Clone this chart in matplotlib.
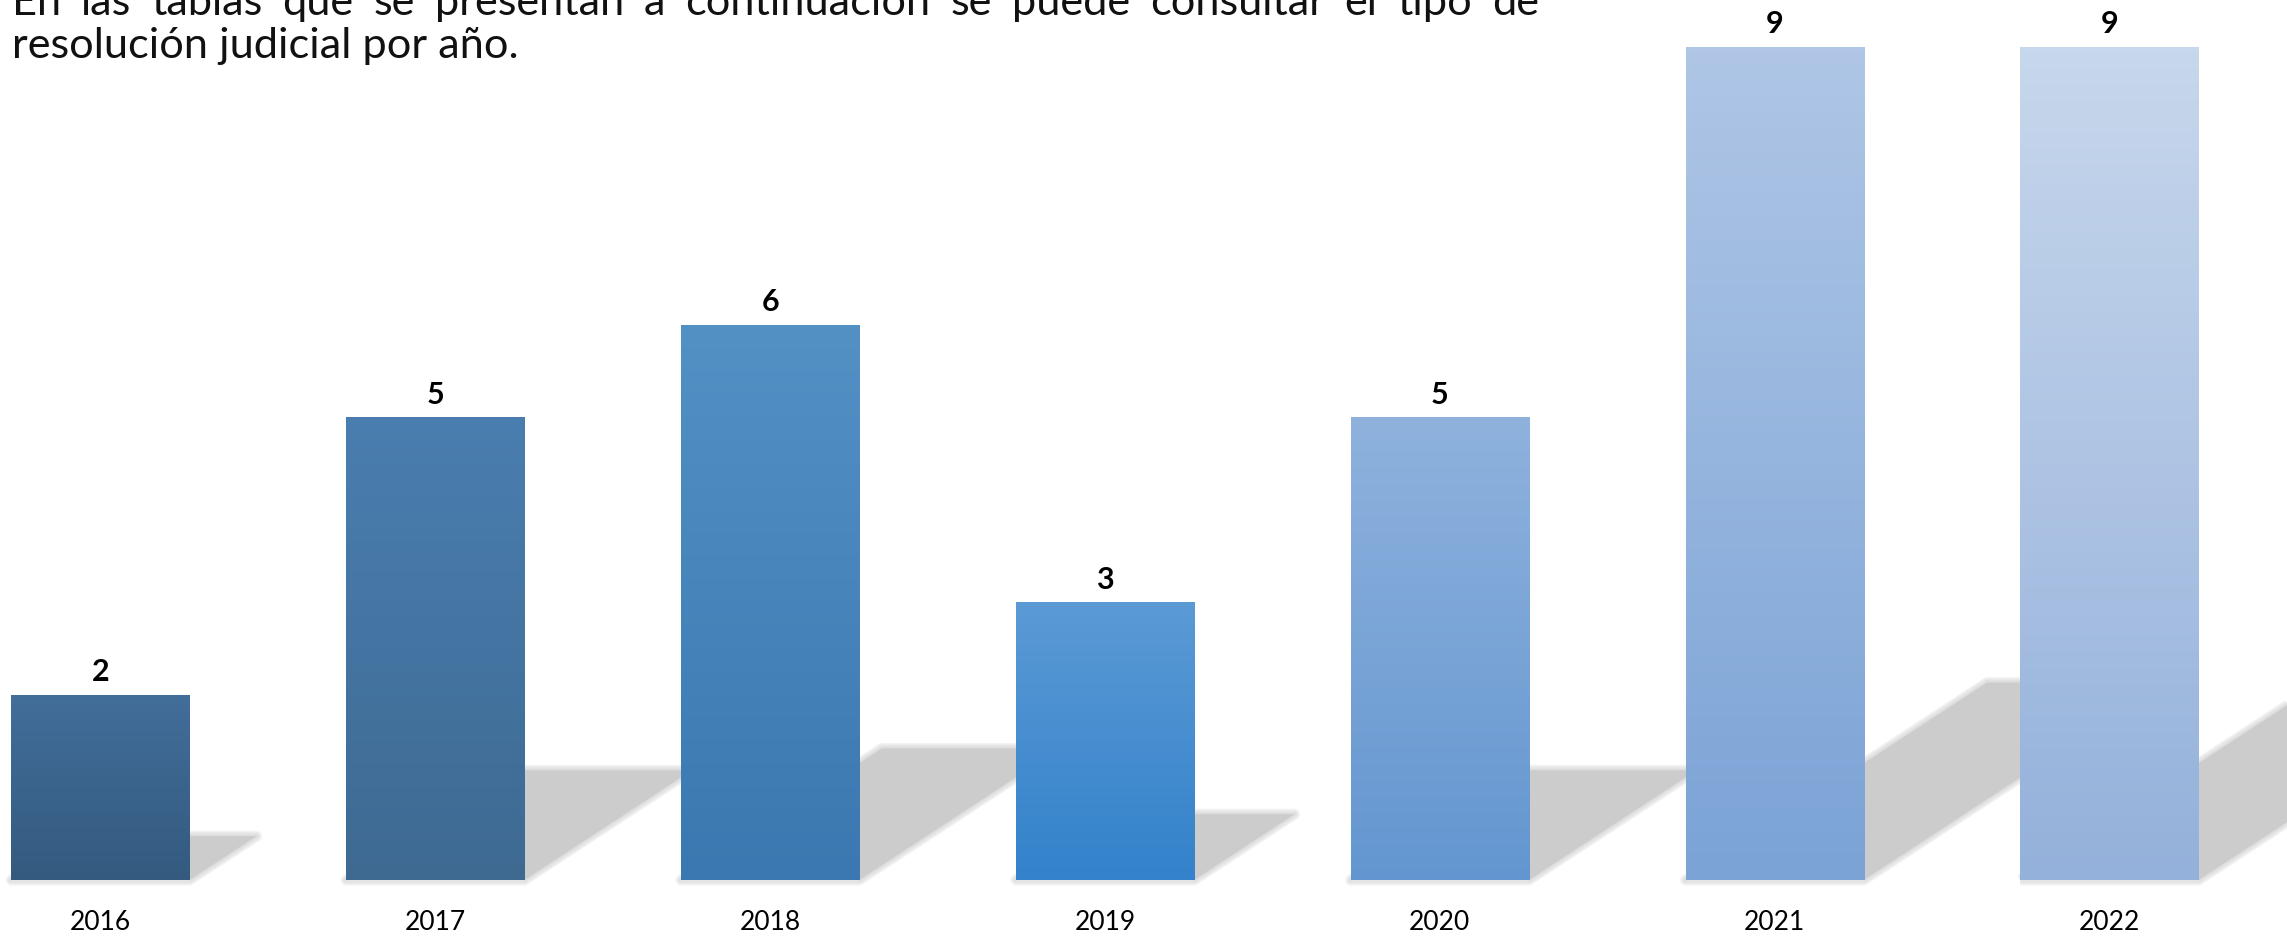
import numpy as np
import matplotlib.pyplot as plt
from matplotlib.colors import LinearSegmentedColormap
from matplotlib.patches import Polygon

plt.rcParams['font.family'] = ['Lato', 'DejaVu Sans']

# data
years = ['2016', '2017', '2018', '2019', '2020', '2021', '2022']
values = [2, 5, 6, 3, 5, 9, 9]
top_colors = ['#426e9a', '#4a7eb0', '#5390c4', '#5b9ad5', '#8fb2dd', '#afc6e6', '#c7d7ec']
bottom_colors = ['#345a7f', '#3e6a92', '#3b78b1', '#3382cb', '#6396d0', '#7ba3d6', '#94b1db']

intro_1 = 'En las tablas que se presentan a continuación se puede consultar el tipo de'
intro_2 = 'resolución judicial por año.'

W, H = 2287, 937
fig = plt.figure(figsize=(W / 100, H / 100), dpi=100)
ax = fig.add_axes([0, 0, 1, 1])
ax.axis('off')

x = np.arange(len(years))
width = 0.532

# cast shadows (skewed copy of each bar, behind the bars)
for xi, v in zip(x, values):
    x0, x1 = xi - width / 2, xi + width / 2
    dx, dy = 0.1 * v, 0.237 * v
    pts = [(x0, 0), (x1, 0), (x1 + dx, dy), (x0 + dx, dy)]
    for lw in [8, 6, 4, 2]:
        ax.add_patch(Polygon(pts, closed=True, fill=False, edgecolor='#cccccc',
                             lw=lw, alpha=0.22, joinstyle='round', zorder=1))
    ax.add_patch(Polygon(pts, closed=True, facecolor='#cccccc', edgecolor='none', zorder=1))

# faint line under the bars
ax.bar(x, [-0.035] * len(x), width=width, color='#e4e4e4', zorder=2)

# bars with vertical gradient
bars = ax.bar(x, values, width=width, color=bottom_colors, zorder=3)
grad = np.linspace(0, 1, 256).reshape(-1, 1)
for b, c_top, c_bot in zip(bars, top_colors, bottom_colors):
    cmap = LinearSegmentedColormap.from_list('g', [c_bot, c_top])
    im = ax.imshow(grad, cmap=cmap, origin='lower', aspect='auto', interpolation='bicubic',
                   extent=[b.get_x(), b.get_x() + b.get_width(), 0, b.get_height()], zorder=3)
    im.set_clip_path(b)

# value labels
for xi, v in zip(x, values):
    ax.annotate(str(v), (xi, v), xytext=(0, 17), textcoords='offset points',
                ha='center', va='center', fontsize=22, fontweight='bold', color='black')

# year labels
for xi, yr in zip(x, years):
    ax.text(xi, -0.443, yr, ha='center', va='center', fontsize=19, color='black')

ax.set_xlim(-0.30, 6.53)
ax.set_ylim(-0.605, 9.519)

# intro text (first line cut by the top edge, justified)
r = fig.canvas.get_renderer()
fs = 30
t2 = fig.text(12 / W, 1 - 58 / H, intro_2, fontsize=fs, color='#111111', va='baseline')
w2 = t2.get_window_extent(r).width
fs = fs * 506 / w2
t2.set_fontsize(fs)

words = intro_1.split(' ')
items = [fig.text(0, 1 - 15 / H, wd, fontsize=fs, color='#111111', va='baseline') for wd in words]
widths = [t.get_window_extent(r).width for t in items]
gap = (1527 - sum(widths)) / (len(words) - 1)
pos = 12
for t, wd in zip(items, widths):
    t.set_x(pos / W)
    pos += wd + gap

fig.savefig('out.png', dpi=100)
